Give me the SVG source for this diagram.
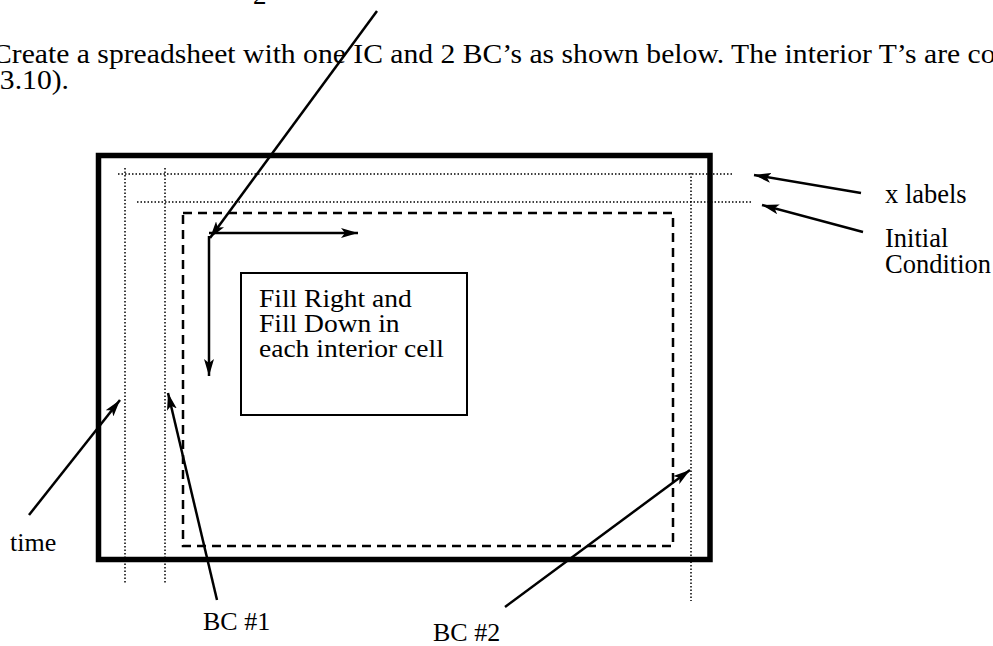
<svg xmlns="http://www.w3.org/2000/svg" width="993" height="646" viewBox="0 0 993 646">
<style>
.t{font-family:"Liberation Serif","Times New Roman",serif;fill:#000;}
.frame{fill:none;stroke:#000;stroke-width:5.5;}
.dot{fill:none;stroke:#000;stroke-width:1.5;stroke-dasharray:1.5 2;}
.dash{fill:none;stroke:#000;stroke-width:2.5;stroke-dasharray:9 6;}
.box{fill:#fff;stroke:#000;stroke-width:2;}
.arr{fill:none;stroke:#000;stroke-width:2.5;marker-end:url(#ah);}
</style>
<defs>
<marker id="ah" markerUnits="userSpaceOnUse" markerWidth="18" markerHeight="10" refX="17" refY="5" orient="auto">
<path d="M0,0 L17,5 L0,10 L4,5 z" fill="#000"/>
</marker>
</defs>
<rect width="993" height="646" fill="#fff"/>
<g id="header">
<text class="t" x="253" y="4" font-size="27">2</text>
<g transform="scale(1.09,1)">
<text class="t" x="-7.3" y="63" font-size="27.2">Create a spreadsheet with one IC and 2 BC’s as shown below.  The interior T’s are co</text>
<text class="t" x="-9.2" y="89" font-size="27.2">(3.10).</text>
</g>
</g>
<g id="sheet">
<rect class="frame" x="98.5" y="155.5" width="611.5" height="404"/>
</g>
<g id="x-labels-row"><line class="dot" x1="118" y1="174" x2="732" y2="174"/></g>
<g id="ic-row"><line class="dot" x1="137" y1="202" x2="752" y2="202"/></g>
<g id="time-col"><line class="dot" x1="125" y1="168" x2="125" y2="583"/></g>
<g id="bc1-col"><line class="dot" x1="165" y1="168" x2="165" y2="583"/></g>
<g id="bc2-col"><line class="dot" x1="691" y1="173" x2="691" y2="601"/></g>
<g id="interior"><rect class="dash" x="183" y="213" width="490" height="333"/></g>
<g id="fill-box">
<rect class="box" x="241" y="273" width="226" height="142"/>
<g transform="scale(1.08,1)">
<text class="t" x="239.8" y="307" font-size="25.5">Fill Right and</text>
<text class="t" x="239.8" y="332" font-size="25.5">Fill Down in</text>
<text class="t" x="239.8" y="357" font-size="25.5">each interior cell</text>
</g>
</g>
<g id="labels">
<text class="t" x="885" y="203" font-size="26.5">x labels</text>
<text class="t" x="885" y="247" font-size="26.5">Initial</text>
<text class="t" x="885" y="273" font-size="26.5">Condition</text>
<text class="t" x="10" y="551" font-size="26">time</text>
<text class="t" x="203" y="630" font-size="26">BC #1</text>
<text class="t" x="433" y="641" font-size="26">BC #2</text>
</g>
<g id="connectors">
<line class="arr" x1="209" y1="233" x2="358" y2="233"/>
<line class="arr" x1="209" y1="236" x2="209" y2="376"/>
<line class="arr" x1="377" y1="11" x2="210" y2="238"/>
<line class="arr" x1="861" y1="193" x2="754" y2="175"/>
<line class="arr" x1="863" y1="232" x2="762" y2="205"/>
<line class="arr" x1="29" y1="515" x2="120" y2="400"/>
<line class="arr" x1="217" y1="600" x2="168" y2="393"/>
<line class="arr" x1="505" y1="607" x2="690" y2="470"/>
</g>
</svg>
